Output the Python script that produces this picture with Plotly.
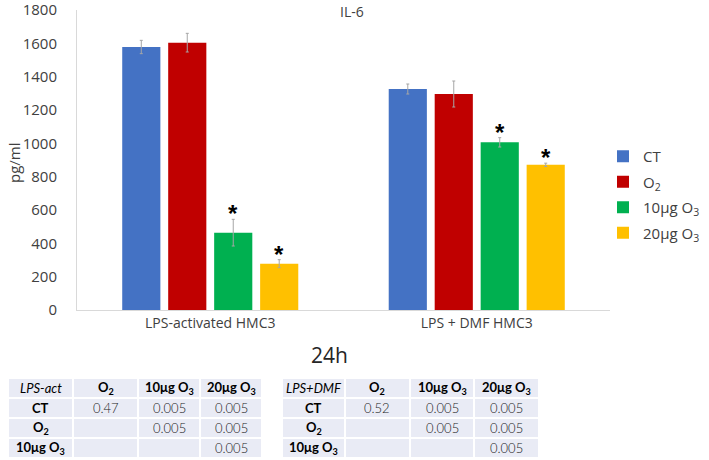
import plotly.graph_objects as go

# ---------------- data ----------------
categories = ["LPS-activated HMC3", "LPS + DMF HMC3"]
series_names = ["CT", "O<sub>2</sub>", "10μg O<sub>3</sub>", "20μg O<sub>3</sub>"]
series_colors = ["#4472C4", "#C00000", "#00B050", "#FFC000"]
ct_vals = [1578, 1326]
o2_vals = [1604, 1296]
o3_10_vals = [464, 1006]
o3_20_vals = [278, 871]
ct_err = [40, 30]
o2_err = [56, 78]
o3_10_err = [80, 28]
o3_20_err = [24, 10]
# significance markers (series index, category index)
stars = [(2, 0), (3, 0), (2, 1), (3, 1)]

y_ticks = [0, 200, 400, 600, 800, 1000, 1200, 1400, 1600, 1800]

table_cols = ["<i>LPS-act</i>", "<b>O<sub>2</sub></b>", "<b>10μg O<sub>3</sub></b>", "<b>20μg O<sub>3</sub></b>"]
table_rows = ["<b>CT</b>", "<b>O<sub>2</sub></b>", "<b>10μg O<sub>3</sub></b>"]
lps_act_p = [["0.47", "0.005", "0.005"], ["", "0.005", "0.005"], ["", "", "0.005"]]
table_cols2 = ["<i>LPS+DMF</i>", "<b>O<sub>2</sub></b>", "<b>10μg O<sub>3</sub></b>", "<b>20μg O<sub>3</sub></b>"]
lps_dmf_p = [["0.52", "0.005", "0.005"], ["", "0.005", "0.005"], ["", "", "0.005"]]

values = [ct_vals, o2_vals, o3_10_vals, o3_20_vals]
errors = [ct_err, o2_err, o3_10_err, o3_20_err]

W, H = 709, 460
FONT = "Open Sans"

fig = go.Figure()
for name, col, v, e in zip(series_names, series_colors, values, errors):
    fig.add_trace(go.Bar(
        x=categories, y=v, name=name, legendgroup=name,
        marker=dict(color=col, line=dict(width=0)),
        error_y=dict(type="data", array=e, visible=True, color="#A6A6A6", thickness=1, width=1.5),
    ))

bargap = 0.31
n = len(series_names)
slot = (1 - bargap) / n
for si, ci in stars:
    xpos = ci - (1 - bargap) / 2 + slot * (si + 0.5)
    top = values[si][ci] + errors[si][ci]
    fig.add_annotation(x=xpos, y=top, xref="x", yref="y", text="<b>*</b>", showarrow=False,
                       font=dict(size=24, color="#000000", family="Liberation Sans"),
                       xanchor="center", yanchor="bottom", yshift=-10)

# ---------------- p-value tables (drawn with shapes + text) ----------------
cell_fill = "#E9EBF5"
row_edges = [378, 398, 418, 438, 458]


def add_table(cols, data, col_edges):
    grid = [cols] + [[table_rows[r]] + data[r] for r in range(len(table_rows))]
    for r, row in enumerate(grid):
        y0, y1 = row_edges[r], row_edges[r + 1]
        for c, txt in enumerate(row):
            x0, x1 = col_edges[c], col_edges[c + 1]
            fig.add_shape(type="rect", xref="paper", yref="paper",
                          x0=x0 / W, x1=x1 / W, y0=1 - y1 / H, y1=1 - y0 / H,
                          fillcolor=cell_fill, line=dict(color="white", width=2), layer="below")
            if txt:
                bold = r == 0 or c == 0
                fig.add_annotation(
                    text=txt, xref="paper", yref="paper", showarrow=False,
                    x=(x0 + x1) / 2 / W, y=1 - (y0 + y1) / 2 / H,
                    xanchor="center", yanchor="middle",
                    font=dict(family="Lato", size=13,
                              color="#000000" if bold else "#1a1a1a",
                              weight=None if bold else 300))


add_table(table_cols, lps_act_p, [8, 73, 138, 200, 262])
add_table(table_cols2, lps_dmf_p, [282, 345, 410, 474, 539])

fig.update_layout(
    width=W, height=H,
    margin=dict(l=0, r=0, t=0, b=0, autoexpand=False),
    paper_bgcolor="white", plot_bgcolor="white",
    barmode="group", bargap=bargap, bargroupgap=0.17,
    font=dict(family=FONT, color="#595959"),
    xaxis=dict(domain=[77 / W, 610 / W], showline=True, linecolor="#D9D9D9", linewidth=1,
               ticks="", showgrid=False, automargin=False, tickfont=dict(size=14, color="#404040")),
    yaxis=dict(domain=[1 - 310 / H, 1 - 10 / H], range=[0, 1800], tickvals=y_ticks,
               showline=True, linecolor="#D9D9D9", linewidth=1, showgrid=False, zeroline=False,
               automargin=False, ticks="", ticklabelstandoff=16, ticklabeloverflow="allow",
               tickfont=dict(size=15, color="#404040")),
    legend=dict(x=603 / W, y=1 - 140 / H, xanchor="left", yanchor="top", tracegroupgap=3,
                font=dict(size=15, color="#404040"), bgcolor="rgba(0,0,0,0)"),
    showlegend=True,
)

fig.add_annotation(text="IL-6", x=352 / W, y=1 - 12 / H, xref="paper", yref="paper",
                   showarrow=False, font=dict(size=14, color="#404040"), xanchor="center", yanchor="middle")
fig.add_annotation(text="pg/ml", x=14 / W, y=1 - 163 / H, xref="paper", yref="paper",
                   showarrow=False, textangle=-90, font=dict(size=15, color="#404040"),
                   xanchor="center", yanchor="middle")
fig.add_annotation(text="24h", x=329 / W, y=1 - 355 / H, xref="paper", yref="paper",
                   showarrow=False, font=dict(size=21, color="#262626"), xanchor="center", yanchor="middle")

fig.write_html("out.html", config={"displayModeBar": False},
               post_script="document.body.style.margin='0px';")
